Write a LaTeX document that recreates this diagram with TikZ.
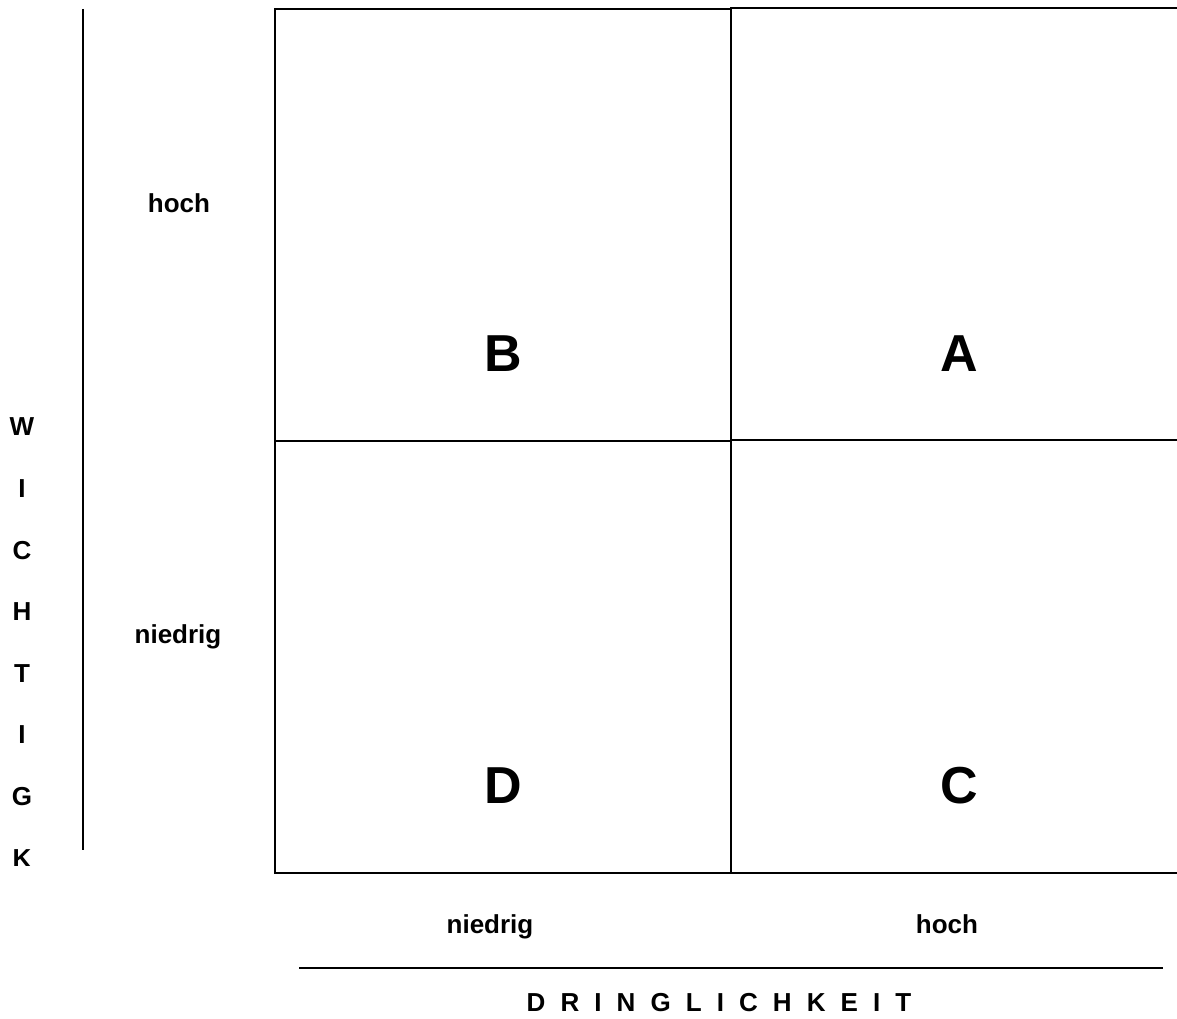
\documentclass[tikz,border=0pt]{standalone}
\usepackage{fontspec}
\setmainfont{Liberation Sans}
\tikzset{
  lbl/.style={font=\fontsize{19.5}{23}\selectfont\bfseries, inner sep=0pt},
  quad/.style={font=\fontsize{39}{45}\selectfont\bfseries, inner sep=0pt},
  grid line/.style={line width=1.3pt}
}
\newcommand{\gp}{\hspace{0.58em}}
\begin{document}
\begin{tikzpicture}[x=0.75pt,y=-0.75pt]
  \useasboundingbox (0,0) rectangle (1177,1019);
  \clip (0,0) rectangle (1177,1019);

  % matrix
  \draw[grid line] (275,9) rectangle (731,441);
  \draw[grid line] (731,8) rectangle (1190,440);
  \draw[grid line] (275,441) rectangle (731,873);
  \draw[grid line] (731,440) rectangle (1190,873);

  \node[quad] (qB) at (503,354) {B};
  \node[quad] (qA) at (959,354) {A};
  \node[quad] (qD) at (503,786) {D};
  \node[quad] (qC) at (959,786) {C};

  % Wichtigkeit
  \coordinate (wtop) at (83,9);
  \coordinate (wbot) at (83,850);
  \draw[grid line] (wtop) -- (wbot);
  \node[lbl, anchor=base] (whoch) at (179,213) {hoch};
  \node[lbl, anchor=base] (wniedrig) at (178,643) {niedrig};
  \begin{scope}
    \clip (0,0) rectangle (60,865);
    \foreach \ch [count=\i from 0] in {W,I,C,H,T,I,G,K}
      \node[lbl] (w\i) at (22,427+61.6*\i) {\ch};
  \end{scope}

  % Dringlichkeit
  \node[lbl, anchor=base] (dniedrig) at (490,933) {niedrig};
  \node[lbl, anchor=base] (dhoch) at (947,933) {hoch};
  \coordinate (dleft) at (299,968);
  \coordinate (dright) at (1163,968);
  \draw[grid line] (dleft) -- (dright);
  \node[lbl, anchor=base] (dtitle) at (719,1011) {D\gp R\gp I\gp N\gp G\gp L\gp I\gp C\gp H\gp K\gp E\gp I\gp T};
\end{tikzpicture}
\end{document}
